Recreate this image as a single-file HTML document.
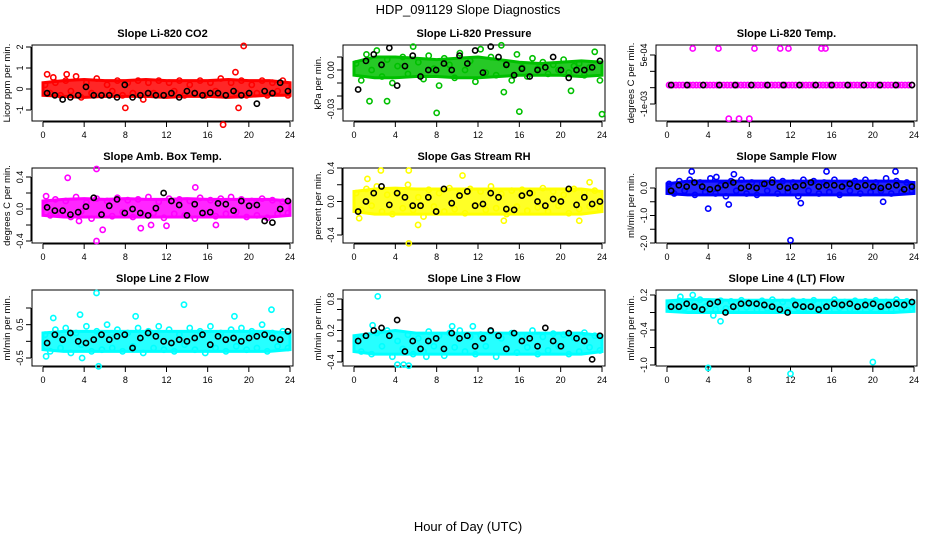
<!DOCTYPE html>
<html><head><meta charset="utf-8">
<style>
body{margin:0;background:#fff;}
svg{display:block;font-family:"Liberation Sans",sans-serif;}
</style></head>
<body>
<svg id="c" width="936" height="540" viewBox="0 0 936 540">
<text x="468" y="14" text-anchor="middle" font-size="13">HDP_091129  Slope Diagnostics</text>
<text x="468" y="531" text-anchor="middle" font-size="13">Hour of Day (UTC)</text>
</svg>
<script>
// ---- data ----
const xTicks = [0,4,8,12,16,20,24];
const bandHours = [0,2,4,6,8,10,12,14,16,18,20,22,24];
const co2Lo = [-0.3,-0.35,-0.4,-0.35,-0.35,-0.35,-0.4,-0.35,-0.35,-0.4,-0.35,-0.3,-0.3];
const co2Hi = [0.3,0.4,0.45,0.4,0.4,0.45,0.4,0.4,0.4,0.45,0.4,0.4,0.3];
const co2Vals = [0.2,-0.2,0.3,-0.3,0.4,-0.1,0.6,-0.4,0.3,-0.2,0.5,-0.3,0.2,-0.1,0.4,-0.3,0.3,-0.2,0.4,-0.5,0.3,-0.2,0.4,-0.3,0.3,-0.1,0.4,-0.3,0.2,-0.2,0.4,-0.3,0.3,-0.1,0.5,-0.3,0.3,-0.2,0.4,-0.3,0.2,-0.2,0.4,-0.3,0.3,-0.1,0.4,-0.3];
const co2Out = [[17.5,-1.7],[19.5,2.05],[8,-0.9],[18.7,0.8],[19,-0.9],[0.4,0.7],[2.3,0.7],[1,0.55]];
const co2Blk = [-0.2,-0.3,-0.5,-0.4,-0.3,0.1,-0.3,-0.3,-0.3,-0.4,0.2,-0.4,-0.3,-0.2,-0.3,-0.3,-0.2,-0.4,-0.1,-0.2,-0.3,-0.2,-0.2,-0.3,-0.1,-0.3,-0.2,-0.7,-0.1,-0.2,0.3,-0.1];
const presLo = [-0.004,-0.006,-0.006,-0.005,-0.005,-0.006,-0.006,-0.005,-0.004,-0.004,-0.004,-0.005,-0.004];
const presHi = [0.006,0.01,0.01,0.009,0.008,0.009,0.01,0.008,0.006,0.005,0.006,0.007,0.006];
const presVals = [0.005,-0.008,0.012,0,0.015,-0.005,0.008,-0.01,0.003,0.01,-0.003,0.018,0.006,-0.007,0.011,0.001,-0.012,0.009,0.004,-0.006,0.013,0,0.007,-0.009,0.016,-0.002,0.01,-0.004,0.019,0.005,-0.008,0.012,0.002,-0.005,0.009,0.001,0.006,-0.003,0.004,0,0.008,-0.002,0.003,0.005,-0.004,0.002,0.014,-0.008];
const presOut = [[8,-0.033],[16,-0.032],[24,-0.034],[1.5,-0.024],[3.2,-0.024],[14.5,-0.017],[21,-0.016]];
const presBlk = [-0.015,0.007,0.012,0.004,0.017,-0.012,0.003,0.011,-0.005,0,0,0.005,0,0.011,0.005,0.015,-0.002,0.018,0.01,0.004,-0.004,0.001,-0.005,0,0.002,0.01,0,-0.006,0,0,0.002,0.007];
const tempLo = [];
const tempHi = [];
const tempVals = [-0.00042,-0.00042,-0.00042,-0.00042,-0.00042,-0.00042,-0.00042,-0.00042,-0.00042,-0.00042,-0.00042,-0.00042,-0.00042,-0.00042,-0.00042,-0.00042,-0.00042,-0.00042,-0.00042,-0.00042,-0.00042,-0.00042,-0.00042,-0.00042,-0.00042,-0.00042,-0.00042,-0.00042,-0.00042,-0.00042,-0.00042,-0.00042,-0.00042,-0.00042,-0.00042,-0.00042,-0.00042,-0.00042,-0.00042,-0.00042,-0.00042,-0.00042,-0.00042,-0.00042,-0.00042,-0.00042,-0.00042,-0.00042,-0.00042,-0.00042,-0.00042,-0.00042,-0.00042,-0.00042,-0.00042,-0.00042,-0.00042,-0.00042,-0.00042,-0.00042,-0.00042,-0.00042,-0.00042,-0.00042,-0.00042,-0.00042,-0.00042,-0.00042,-0.00042,-0.00042,-0.00042,-0.00042];
const tempOut = [[2.5,0.0007],[5,0.0007],[8.5,0.0007],[11,0.0007],[11.8,0.0007],[15,0.0007],[15.4,0.0007],[6,-0.00145],[7,-0.00145],[8,-0.00145]];
const tempBlk = [-0.00042,-0.00042,-0.00042,-0.00042,-0.00042,-0.00042,-0.00042,-0.00042,-0.00042,-0.00042,-0.00042,-0.00042,-0.00042,-0.00042,-0.00042,-0.00042];
const boxLo = [-0.08,-0.1,-0.1,-0.1,-0.1,-0.1,-0.1,-0.1,-0.1,-0.1,-0.1,-0.1,-0.08];
const boxHi = [0.1,0.12,0.13,0.12,0.13,0.12,0.12,0.13,0.12,0.12,0.12,0.12,0.1];
const boxVals = [0.05,-0.08,0.12,-0.05,0.1,-0.1,0.15,-0.03,0.08,-0.12,0.13,-0.06,0.1,-0.09,0.14,-0.04,0.11,-0.1,0.12,-0.07,0.15,-0.05,0.09,-0.11,0.13,-0.06,0.12,-0.08,0.1,-0.12,0.14,-0.05,0.11,-0.09,0.13,-0.06,0.15,-0.04,0.12,-0.1,0.1,-0.08,0.13,-0.11,0.11,-0.06,0.09,-0.05];
const boxOut = [[5.2,0.5],[5.2,-0.4],[2.4,0.39],[9.5,-0.24],[5.8,-0.26],[16.8,-0.2],[14.8,0.27],[0.3,0.16],[12,-0.21],[3.5,-0.15],[10.5,-0.2]];
const boxBlk = [0.02,-0.02,-0.02,-0.07,-0.04,0.03,0.14,-0.07,0.04,0.12,-0.05,0,-0.05,-0.08,0.01,0.2,0.1,0.05,-0.08,0.06,-0.05,-0.04,0.07,0.06,-0.02,0.1,0.04,0.05,-0.15,-0.17,0,0.1];
const rhLo = [-0.12,-0.15,-0.15,-0.15,-0.15,-0.15,-0.15,-0.15,-0.15,-0.15,-0.15,-0.15,-0.12];
const rhHi = [0.12,0.15,0.16,0.15,0.15,0.15,0.15,0.15,0.15,0.15,0.15,0.15,0.12];
const rhVals = [0.1,-0.1,0.15,-0.05,0.18,-0.12,0.08,-0.15,0.12,-0.08,0.2,-0.1,0.05,-0.18,0.14,-0.06,0.1,-0.12,0.16,-0.09,0.11,-0.14,0.15,-0.05,0.12,-0.1,0.18,-0.08,0.09,-0.15,0.13,-0.06,0.14,-0.11,0.1,-0.07,0.16,-0.12,0.12,-0.05,0.08,-0.14,0.15,-0.09,0.11,-0.06,0.13,-0.08];
const rhOut = [[5.3,0.37],[2.6,0.37],[10.5,0.31],[5.3,-0.5],[6.2,-0.28],[1.3,0.27],[22.8,0.23],[14.5,-0.23],[21.8,-0.23],[0.5,-0.2]];
const rhBlk = [-0.12,0,0.1,0.18,-0.04,0.1,0.05,-0.05,-0.05,0.05,-0.12,0.15,-0.02,0.07,0.12,-0.05,-0.03,0.1,0.05,-0.09,-0.1,0.07,0.1,0,-0.05,0.03,0,0.15,-0.04,0.05,-0.03,0];
const flowLo = [-0.2,-0.25,-0.25,-0.25,-0.25,-0.25,-0.25,-0.25,-0.25,-0.25,-0.25,-0.25,-0.2];
const flowHi = [0.15,0.25,0.25,0.25,0.25,0.25,0.25,0.25,0.25,0.25,0.25,0.25,0.2];
const flowVals = [0.15,-0.2,0.25,-0.1,0.3,-0.25,0.2,-0.15,0.35,-0.2,0.1,-0.3,0.25,-0.1,0.3,-0.2,0.2,-0.25,0.15,-0.1,0.3,-0.2,0.25,-0.15,0.2,-0.3,0.3,-0.1,0.25,-0.2,0.2,-0.15,0.3,-0.25,0.15,-0.1,0.25,-0.2,0.3,-0.15,0.2,-0.1,0.35,-0.2,0.25,-0.15,0.2,-0.1];
const flowOut = [[12,-1.9],[4,-0.75],[15.5,0.6],[2.4,0.6],[22.2,0.6],[13,-0.55],[6,-0.6],[21,-0.5],[6.5,0.5],[4.8,0.4]];
const flowBlk = [-0.1,0.1,0.05,0.2,0.05,-0.05,0,0.1,0.2,0,0.05,0,0.15,0.2,0.05,0,0.05,0.1,0.2,0.05,0.1,0.1,0.05,0.15,0.05,0.1,0.05,0,0.05,0.1,-0.05,0.05];
const l2Lo = [-0.25,-0.3,-0.3,-0.3,-0.3,-0.3,-0.3,-0.3,-0.3,-0.3,-0.3,-0.3,-0.25];
const l2Hi = [0.25,0.3,0.3,0.3,0.3,0.3,0.3,0.3,0.3,0.3,0.3,0.3,0.25];
const l2Vals = [0.2,-0.3,0.35,-0.2,0.4,-0.35,0.25,-0.1,0.45,-0.3,0.3,-0.25,0.5,-0.2,0.35,-0.3,0.25,-0.15,0.4,-0.35,0.3,-0.2,0.45,-0.25,0.35,-0.3,0.2,-0.1,0.4,-0.25,0.3,-0.35,0.45,-0.2,0.25,-0.3,0.35,-0.15,0.4,-0.25,0.3,-0.2,0.5,-0.3,0.25,-0.15,0.3,-0.2];
const l2Out = [[5.2,1.45],[5.4,-0.75],[13.7,1.1],[22.2,0.95],[3.6,0.8],[1,0.7],[0.3,-0.45],[3.8,-0.5],[9,0.75],[18.6,0.75]];
const l2Blk = [-0.05,0.2,0.05,0.25,0,-0.05,0.05,0.2,0.05,0.15,0.2,-0.2,0.1,0.25,0.15,0,-0.05,0.05,0,0.1,0.2,-0.1,0.15,0.05,0.1,0,0.1,0.15,0.2,0.1,0.05,0.3];
const l3Lo = [-0.2,-0.25,-0.25,-0.25,-0.25,-0.25,-0.25,-0.25,-0.25,-0.25,-0.25,-0.25,-0.2];
const l3Hi = [0.1,0.15,0.2,0.15,0.15,0.15,0.15,0.15,0.15,0.15,0.15,0.15,0.1];
const l3Vals = [0.05,-0.2,0.1,-0.25,0.15,-0.1,0.2,-0.3,0,-0.15,0.12,-0.25,0.05,-0.2,0.18,-0.1,0.1,-0.28,0.15,-0.12,0.2,-0.2,0.08,-0.25,0.12,-0.1,0.18,-0.3,0.05,-0.15,0.15,-0.22,0.1,-0.12,0.2,-0.25,0.08,-0.18,0.14,-0.1,0.12,-0.25,0.06,-0.2,0.16,-0.12,0.1,-0.18];
const l3Out = [[2.3,0.85],[4.2,-0.45],[4.8,-0.45],[5.3,-0.47],[1.8,0.3],[9.5,0.28],[11.5,0.28],[7,-0.3]];
const l3Blk = [0,0.1,0.2,0.25,0.1,0.4,-0.2,0,-0.15,0,0.05,-0.15,0.15,0.05,0.1,-0.1,0.05,0.2,0.1,-0.15,0.15,0,0.05,-0.1,0.25,0,-0.1,0.15,0.05,0,-0.35,0.1];
const l4Lo = [-0.08,-0.1,-0.1,-0.1,-0.1,-0.1,-0.1,-0.1,-0.1,-0.1,-0.1,-0.1,-0.08];
const l4Hi = [0.1,0.12,0.12,0.11,0.11,0.11,0.11,0.11,0.11,0.11,0.11,0.11,0.1];
const l4Vals = [0.05,-0.05,0.1,-0.02,0.08,-0.06,0.12,0,0.06,-0.05,0.1,-0.03,0.09,-0.06,0.11,-0.01,0.07,-0.05,0.1,-0.03,0.12,-0.04,0.08,-0.06,0.1,-0.02,0.09,-0.05,0.11,-0.03,0.07,-0.06,0.12,-0.02,0.08,-0.04,0.1,-0.05,0.09,-0.02,0.11,-0.04,0.08,-0.05,0.12,-0.03,0.09,-0.04];
const l4Out = [[4,-1.05],[12,-1.15],[20,-0.95],[2.5,0.2],[1.3,0.17],[5.2,-0.25],[4.5,-0.15]];
const l4Blk = [0,0,0.05,0,-0.05,0.05,0.08,-0.1,0,0.05,0.06,0.05,0.03,0,-0.05,-0.1,0.03,0,0,-0.05,0,0.05,0.03,0.05,0,0.03,0.05,0,0.03,0.05,0.03,0.08];

// ---- layout ----
const panels = [
 {id:'co2',title:'Slope Li-820 CO2',ylab:'Licor ppm per min.',col:'#ff0000',L:32,R:293,T:45,B:121,v1:2,p1:47,v2:-1,p2:110,ticks:[-1,0,1,2],labs:{'-1':'-1','0':'0','1':'1','2':'2'},lo:co2Lo,hi:co2Hi,vals:co2Vals,out:co2Out,blk:co2Blk},
 {id:'pressure',title:'Slope Li-820 Pressure',ylab:'kPa per min.',col:'#00c000',L:343,R:605,T:45,B:121,v1:0,p1:70,v2:-0.03,p2:109,ticks:[-0.03,-0.02,-0.01,0,0.01],labs:{'-0.03':'-0.03','0':'0.00'},lo:presLo,hi:presHi,vals:presVals,out:presOut,blk:presBlk},
 {id:'temp',title:'Slope Li-820 Temp.',ylab:'degrees C per min.',col:'#ff00ff',L:656,R:917,T:45,B:121,v1:0.0005,p1:55,v2:-0.001,p2:104,ticks:[-0.001,-0.0005,0,0.0005],labs:{'-0.001':'-1e-03','0.0005':'5e-04'},lo:tempLo,hi:tempHi,vals:tempVals,out:tempOut,blk:tempBlk},
 {id:'ambbox',title:'Slope Amb. Box Temp.',ylab:'degrees C per min.',col:'#ff00ff',L:32,R:293,T:168,B:243,v1:0.4,p1:177,v2:-0.4,p2:241,ticks:[-0.4,-0.2,0,0.2,0.4],labs:{'-0.4':'-0.4','0':'0.0','0.4':'0.4'},lo:boxLo,hi:boxHi,vals:boxVals,out:boxOut,blk:boxBlk},
 {id:'rh',title:'Slope Gas Stream RH',ylab:'percent per min.',col:'#ffff00',L:343,R:605,T:168,B:243,v1:0.4,p1:168,v2:-0.4,p2:235,ticks:[-0.4,-0.2,0,0.2,0.4],labs:{'-0.4':'-0.4','0':'0.0','0.4':'0.4'},lo:rhLo,hi:rhHi,vals:rhVals,out:rhOut,blk:rhBlk},
 {id:'sample',title:'Slope Sample Flow',ylab:'ml/min per min.',col:'#0000ff',L:656,R:917,T:168,B:243,v1:0,p1:188,v2:-2,p2:243,ticks:[-2,-1.5,-1,-0.5,0],labs:{'-2':'-2.0','-1':'-1.0','0':'0.0'},lo:flowLo,hi:flowHi,vals:flowVals,out:flowOut,blk:flowBlk},
 {id:'line2',title:'Slope Line 2 Flow',ylab:'ml/min per min.',col:'#00ffff',L:32,R:293,T:290,B:366,v1:1,p1:308,v2:-0.5,p2:358,ticks:[-0.5,0,0.5,1],labs:{'-0.5':'-0.5','0.5':'0.5'},lo:l2Lo,hi:l2Hi,vals:l2Vals,out:l2Out,blk:l2Blk},
 {id:'line3',title:'Slope Line 3 Flow',ylab:'ml/min per min.',col:'#00ffff',L:343,R:605,T:290,B:366,v1:0.8,p1:299,v2:-0.4,p2:362,ticks:[-0.4,-0.2,0,0.2,0.4,0.6,0.8],labs:{'-0.4':'-0.4','0.2':'0.2','0.8':'0.8'},lo:l3Lo,hi:l3Hi,vals:l3Vals,out:l3Out,blk:l3Blk},
 {id:'line4',title:'Slope Line 4 (LT) Flow',ylab:'ml/min per min.',col:'#00ffff',L:656,R:917,T:290,B:366,v1:0.2,p1:295,v2:-1,p2:365,ticks:[-1,-0.7,-0.4,-0.1,0.2],labs:{'-1':'-1.0','-0.4':'-0.4','0.2':'0.2'},lo:l4Lo,hi:l4Hi,vals:l4Vals,out:l4Out,blk:l4Blk}
];
const NS='http://www.w3.org/2000/svg';
const svg=document.getElementById('c');
function mk(tag,attrs,parent){const e=document.createElementNS(NS,tag);for(const k in attrs)e.setAttribute(k,attrs[k]);(parent||svg).appendChild(e);return e;}
panels.forEach(p=>{
  const g=mk('g',{});
  
  
  const xs=h=>p.L+11+h*(p.R-p.L-14)/24;
  const ys=v=>p.p1+(v-p.v1)*(p.p2-p.p1)/(p.v2-p.v1);
  const t=mk('text',{x:(p.L+p.R)/2,y:p.T-8,'text-anchor':'middle','font-size':'11','font-weight':'bold'},g);
  t.textContent=p.title;
  
  
  const yl=mk('text',{x:0,y:0,'text-anchor':'middle','font-size':'9.5',transform:`translate(${p.L-22},${(p.T+p.B)/2}) rotate(-90)`},g);
  yl.textContent=p.ylab;
  
  
  const xa=mk('g',{},g);
  
  
  mk('line',{x1:xs(0),x2:xs(24),y1:p.B+1,y2:p.B+1,stroke:'#000'},xa);
  xTicks.forEach(v=>{
    mk('line',{x1:xs(v),x2:xs(v),y1:p.B+1,y2:p.B+6,stroke:'#000'},xa);
    const tl=mk('text',{x:xs(v),y:p.B+17,'text-anchor':'middle','font-size':'9'},xa);
    tl.textContent=v;
  });
  const ya=mk('g',{},g);
  
  
  mk('line',{x1:p.L-1,x2:p.L-1,y1:ys(p.ticks[0]),y2:ys(p.ticks[p.ticks.length-1]),stroke:'#000'},ya);
  p.ticks.forEach(v=>{
    mk('line',{x1:p.L-6,x2:p.L-1,y1:ys(v),y2:ys(v),stroke:'#000'},ya);
    const lab=p.labs[String(v)];
    if(lab){const tl=mk('text',{x:0,y:0,'text-anchor':'middle','font-size':'9',transform:`translate(${p.L-9},${ys(v)}) rotate(-90)`},ya);tl.textContent=lab;}
  });
  const bx=mk('rect',{x:p.L,y:p.T,width:p.R-p.L,height:p.B-p.T,fill:'none',stroke:'#000'},g);
  
  
  // dense band
  if(p.lo.length){
    const pts=[];
    p.hi.forEach((v,i)=>pts.push(xs(bandHours[i])+','+ys(v)));
    for(let i=p.lo.length-1;i>=0;i--)pts.push(xs(bandHours[i])+','+ys(p.lo[i]));
    const band=mk('polygon',{points:pts.join(' '),fill:p.col,stroke:p.col,'stroke-width':'3','fill-opacity':'0.85'},g);
    
    
  }
  const cs=mk('g',{fill:'none',stroke:p.col,'stroke-width':'1.6'},g);
  
  
  const n=p.vals.length;
  p.vals.forEach((v,i)=>{
    const c=mk('circle',{cx:xs(0.2+i*23.6/(n-1)),cy:ys(v),r:2.6},cs);
    
    
  });
  p.out.forEach(o=>{
    const c=mk('circle',{cx:xs(o[0]),cy:ys(o[1]),r:2.6},cs);
    
    
  });
  const bs=mk('g',{fill:'none',stroke:'#000','stroke-width':'1.6'},g);
  
  
  const m=p.blk.length;
  p.blk.forEach((v,i)=>{
    const c=mk('circle',{cx:xs(0.4+i*23.4/(m-1)),cy:ys(v),r:2.6},bs);
    
    
  });
});
</script>
</body></html>
